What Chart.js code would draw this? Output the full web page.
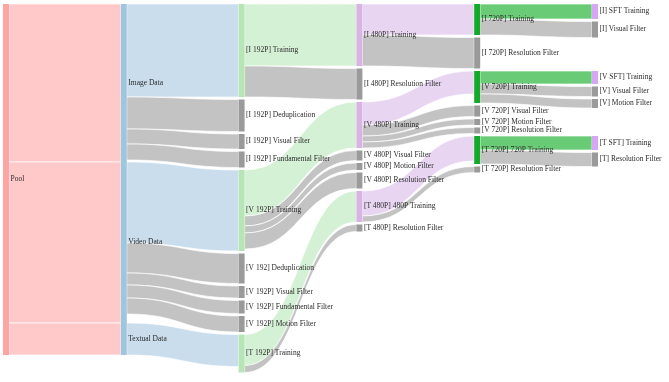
<!DOCTYPE html>
<html><head><meta charset="utf-8">
<script src="https://cdn.jsdelivr.net/npm/chart.js@4"></script>
<style>html,body{margin:0;padding:0;background:#fff}canvas{display:block}</style>
</head><body>
<canvas id="c" width="669" height="382"></canvas>
<script>
// ---- data ----
const nodeNames = [
  'Pool',
  'Image Data', 'Video Data', 'Textual Data',
  '[I 192P] Training', '[I 192P] Deduplication', '[I 192P] Visual Filter', '[I 192P] Fundamental Filter',
  '[V 192P] Training', '[V 192] Deduplication', '[V 192P] Visual Filter', '[V 192P] Fundamental Filter', '[V 192P] Motion Filter',
  '[T 192P] Training',
  '[I 480P] Training', '[I 480P] Resolution Filter',
  '[V 480P] Training', '[V 480P] Visual Filter', '[V 480P] Motion Filter', '[V 480P] Resolution Filter',
  '[T 480P] 480P Training', '[T 480P] Resolution Filter',
  '[I 720P] Training', '[I 720P] Resolution Filter',
  '[V 720P] Training', '[V 720P] Visual Filter', '[V 720P] Motion Filter', '[V 720P] Resolution Filter',
  '[T 720P] 720P Training', '[T 720P] Resolution Filter',
  '[I] SFT Training', '[I] Visual Filter',
  '[V SFT] Training', '[V] Visual Filter', '[V] Motion Filter',
  '[T SFT] Training', '[T] Resolution Filter'
];
const nodeColumns = [
  0,
  1, 1, 1,
  2, 2, 2, 2,
  2, 2, 2, 2, 2,
  2,
  3, 3,
  3, 3, 3, 3,
  3, 3,
  4, 4,
  4, 4, 4, 4,
  4, 4,
  5, 5,
  5, 5, 5,
  5, 5
];
const nodeKinds = [
  'pool',
  'data', 'data', 'data',
  't192', 'filter', 'filter', 'filter',
  't192', 'filter', 'filter', 'filter', 'filter',
  't192',
  't480', 'filter',
  't480', 'filter', 'filter', 'filter',
  't480', 'filter',
  't720', 'filter',
  't720', 'filter', 'filter', 'filter',
  't720', 'filter',
  'sft', 'filter',
  'sft', 'filter', 'filter',
  'sft', 'filter'
];
const linkSources = [0, 0, 0,  1, 1, 1, 1,  2, 2, 2, 2, 2,  3,  4, 4,  8, 8, 8, 8,  13, 13,  14, 14,  16, 16, 16, 16,  20, 20,  22, 22,  24, 24, 24,  28, 28];
const linkTargets = [1, 2, 3,  4, 5, 6, 7,  8, 9, 10, 11, 12,  13,  14, 15,  16, 17, 18, 19,  20, 21,  22, 23,  24, 25, 26, 27,  28, 29,  30, 31,  32, 33, 34,  35, 36];
const linkValues  = [158, 161, 32,  93, 32, 15, 16,  81, 30, 12, 13, 16,  32,  62, 31,  46, 10, 7, 16,  31, 7,  31, 31,  23, 11, 6, 6,  25, 6,  15, 16,  13, 10, 9,  14, 14];

const columnPadding = [0, 0, 2.5, 2.5, 2.5, 2.5];
const alignedColumns = [5];

// ---- styles ----
const palette = {
  pool:   { node: '#FFA3A3', link: 'rgba(255,196,196,0.92)' },
  data:   { node: '#9EC7DF', link: 'rgba(196,218,235,0.92)' },
  t192:   { node: '#B6E6B6', link: 'rgba(208,239,208,0.9)' },
  t480:   { node: '#D9B3E3', link: 'rgba(229,208,239,0.9)' },
  t720:   { node: '#15A92B', link: 'rgba(98,200,112,0.95)' },
  sft:    { node: '#D7A6F6', link: 'rgba(215,166,246,0.9)' },
  filter: { node: '#9A9A9A', link: 'rgba(190,190,190,0.92)' }
};
const NODE_W = 6;
const LABEL_FONT = '7.5px "Liberation Serif", "Times New Roman", serif';

const sankeyPlugin = {
  id: 'sankeyDraw',
  afterDatasetsDraw(chart) {
    const xs = chart.scales.x, ys = chart.scales.y, ctx = chart.ctx;
    const n = nodeNames.length;
    const inV = new Array(n).fill(0), outV = new Array(n).fill(0);
    linkValues.forEach((v, k) => { outV[linkSources[k]] += v; inV[linkTargets[k]] += v; });
    const val = nodeNames.map((_, i) => Math.max(inV[i], outV[i]));
    const top = new Array(n).fill(0);
    const sy0 = new Array(linkValues.length).fill(0);
    const ty0 = new Array(linkValues.length).fill(0);
    const maxCol = Math.max(...nodeColumns);
    for (let c = 0; c <= maxCol; c++) {
      let cursor = 0, first = true;
      for (let i = 0; i < n; i++) {
        if (nodeColumns[i] !== c) continue;
        let y = first ? 0 : cursor + columnPadding[c];
        if (alignedColumns.includes(c)) {
          const k = linkTargets.indexOf(i);
          if (k >= 0) y = Math.max(y, sy0[k]);
        }
        top[i] = y; cursor = y + val[i]; first = false;
      }
      // outgoing offsets
      for (let i = 0; i < n; i++) {
        if (nodeColumns[i] !== c) continue;
        let o = top[i];
        linkSources.forEach((s, k) => { if (s === i) { sy0[k] = o; o += linkValues[k]; } });
      }
    }
    for (let i = 0; i < n; i++) {
      let o = top[i];
      linkTargets.forEach((t, k) => { if (t === i) { ty0[k] = o; o += linkValues[k]; } });
    }
    ctx.save();
    // links
    linkValues.forEach((v, k) => {
      const s = linkSources[k], t = linkTargets[k];
      const x0 = xs.getPixelForValue(nodeColumns[s]) + NODE_W;
      const x1 = xs.getPixelForValue(nodeColumns[t]);
      const xm = (x0 + x1) / 2;
      const a0 = ys.getPixelForValue(sy0[k]), a1 = ys.getPixelForValue(sy0[k] + v);
      const b0 = ys.getPixelForValue(ty0[k]), b1 = ys.getPixelForValue(ty0[k] + v);
      ctx.beginPath();
      ctx.moveTo(x0, a0);
      ctx.bezierCurveTo(xm, a0, xm, b0, x1, b0);
      ctx.lineTo(x1, b1);
      ctx.bezierCurveTo(xm, b1, xm, a1, x0, a1);
      ctx.closePath();
      ctx.fillStyle = nodeKinds[t] === 'filter' ? palette.filter.link : palette[nodeKinds[s]].link;
      ctx.fill();
      ctx.strokeStyle = 'rgba(255,255,255,0.85)';
      ctx.lineWidth = 0.8;
      ctx.stroke();
    });
    // nodes
    for (let i = 0; i < n; i++) {
      const x = xs.getPixelForValue(nodeColumns[i]);
      const y0 = ys.getPixelForValue(top[i]), y1 = ys.getPixelForValue(top[i] + val[i]);
      ctx.fillStyle = palette[nodeKinds[i]].node;
      ctx.fillRect(x, y0, NODE_W, y1 - y0);
    }
    // labels
    ctx.font = LABEL_FONT;
    ctx.fillStyle = '#2a2a2a';
    ctx.textAlign = 'left';
    ctx.textBaseline = 'middle';
    for (let i = 0; i < n; i++) {
      const x = xs.getPixelForValue(nodeColumns[i]) + NODE_W + 1.5;
      const yc = (ys.getPixelForValue(top[i]) + ys.getPixelForValue(top[i] + val[i])) / 2;
      ctx.fillText(nodeNames[i], x, yc);
    }
    ctx.restore();
  }
};

new Chart(document.getElementById('c'), {
  type: 'scatter',
  data: { datasets: [{ data: [], showLine: false }] },
  options: {
    responsive: false,
    animation: false,
    layout: { padding: { left: 3, right: 77, top: 4, bottom: 0 } },
    plugins: { legend: { display: false }, tooltip: { enabled: false } },
    scales: {
      x: { type: 'linear', min: 0, max: 5, display: false },
      y: { type: 'linear', min: 0, max: 378, reverse: true, display: false }
    }
  },
  plugins: [sankeyPlugin]
});
</script>
</body></html>
